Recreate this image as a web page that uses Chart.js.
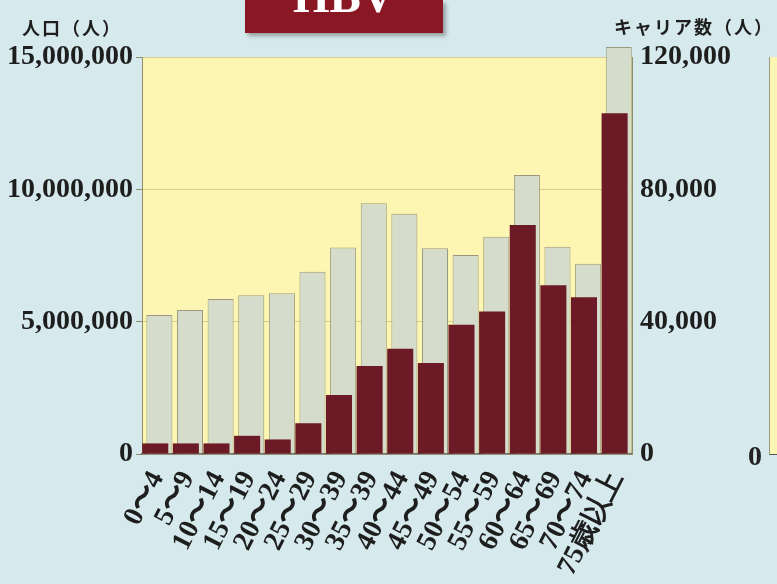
<!DOCTYPE html>
<html lang="ja">
<head>
<meta charset="utf-8">
<script src="https://cdn.jsdelivr.net/npm/chart.js@4.4.1/dist/chart.umd.min.js"></script>
<style>
  html, body { margin: 0; padding: 0; width: 777px; height: 584px; overflow: hidden; background: #d6eaed; }
  #chart { position: absolute; left: 0; top: 0; }
  #title { position: absolute; left: 245px; top: 0; width: 198px; height: 33px; background: #8a1824;
           box-shadow: 3px 3px 4px rgba(70, 70, 70, 0.45); overflow: hidden; z-index: 2; }
  #title span { position: absolute; left: 0; right: 0; top: -31px; line-height: 46px; text-align: center;
                color: #fff; font: bold 47px "Liberation Serif", serif; }
  /* edge of the neighbouring chart */
  #next { position: absolute; left: 769px; top: 57px; width: 20px; height: 397px; background: #fcf6b4;
          border-left: 1px solid #9c9a82; border-bottom: 1px solid #555; }
  #next0 { position: absolute; left: 748px; top: 440px; font: bold 28px "Liberation Serif", serif; color: #222; }
</style>
</head>
<body>
<div id="title"><span>HBV</span></div>
<canvas id="chart" width="777" height="584"></canvas>
<div id="next"></div>
<div id="next0">0</div>
<script>
// 年齢階級別の人口とHBVキャリア数
const ageGroups = ['0〜4', '5〜9', '10〜14', '15〜19', '20〜24', '25〜29', '30〜39', '35〜39',
  '40〜44', '45〜49', '50〜54', '55〜59', '60〜64', '65〜69', '70〜74', '75歳以上'];
const population = [5250000, 5440000, 5860000, 6000000, 6070000, 6890000, 7800000, 9470000,
  9080000, 7770000, 7520000, 8210000, 10540000, 7830000, 7190000, 15380000];
const carriers = [3200, 3200, 3200, 5500, 4400, 9300, 17800, 26600,
  31800, 27500, 39100, 43100, 69200, 51000, 47400, 103000];

const popTicks = [0, 5000000, 10000000, 15000000];
const carrierTicks = [0, 40000, 80000, 120000];

const tickFont = { family: '"Liberation Serif", serif', size: 28, weight: 'bold' };
const fmt = v => v.toLocaleString('en-US');

// yellow plot background
const plotBg = {
  id: 'plotBg',
  beforeDraw(chart) {
    const { ctx, chartArea: a } = chart;
    ctx.save();
    ctx.fillStyle = '#fcf6b2';
    ctx.fillRect(a.left, a.top, a.right - a.left, a.bottom - a.top);
    ctx.restore();
  }
};

// axis captions above the tick labels
const axisCaptions = {
  id: 'axisCaptions',
  afterDraw(chart) {
    const { ctx } = chart;
    ctx.save();
    ctx.fillStyle = '#1e1e1e';
    ctx.font = 'bold 18px "Noto Sans CJK JP"';
    ctx.letterSpacing = '2px';
    ctx.textBaseline = 'alphabetic';
    ctx.fillText('人口（人）', 22, 35);
    ctx.fillText('キャリア数（人）', 614, 34);
    ctx.restore();
  }
};

new Chart(document.getElementById('chart'), {
  type: 'bar',
  data: {
    labels: ageGroups,
    datasets: [{
      label: 'キャリア数',
      data: carriers,
      yAxisID: 'y1',
      backgroundColor: '#6b1a26',
      borderWidth: 0
    }, {
      label: '人口',
      data: population,
      yAxisID: 'y',
      backgroundColor: '#d5dccb',
      borderColor: '#9a987e',
      borderWidth: 1,
      clip: false
    }]
  },
  options: {
    responsive: false,
    animation: false,
    categoryPercentage: 0.27,
    barPercentage: 6.3,
    layout: { padding: { top: 57, left: 0, right: 0, bottom: 0 } },
    plugins: { legend: { display: false }, tooltip: { enabled: false } },
    scales: {
      x: {
        grid: { display: false, drawTicks: false },
        border: { display: true, color: '#555', width: 1.5 },
        ticks: {
          color: '#1e1e1e', font: { family: '"Liberation Serif", serif', size: 28, weight: 'bold' },
          minRotation: 63, maxRotation: 63, autoSkip: false, padding: 12
        },
        afterFit(s) { s.height = 130; }
      },
      y: {
        position: 'left',
        min: 0, max: 15000000,
        afterBuildTicks(s) { s.ticks = popTicks.map(v => ({ value: v })); },
        grid: { color: '#d8cf92', tickColor: '#8f8c6c', tickLength: 6, lineWidth: 1 },
        border: { display: true, color: '#8f8c6c' },
        ticks: { color: '#1e1e1e', font: tickFont, padding: 3, callback: v => fmt(v) },
        afterFit(s) { s.width = 142; }
      },
      y1: {
        position: 'right',
        min: 0, max: 120000,
        afterBuildTicks(s) { s.ticks = carrierTicks.map(v => ({ value: v })); },
        grid: { drawOnChartArea: false, tickLength: 0 },
        border: { display: true, color: '#8f8c6c' },
        ticks: { color: '#1e1e1e', font: tickFont, padding: 8, callback: v => fmt(v) },
        afterFit(s) { s.width = 145; }
      }
    }
  },
  plugins: [plotBg, axisCaptions]
});
</script>
</body>
</html>
